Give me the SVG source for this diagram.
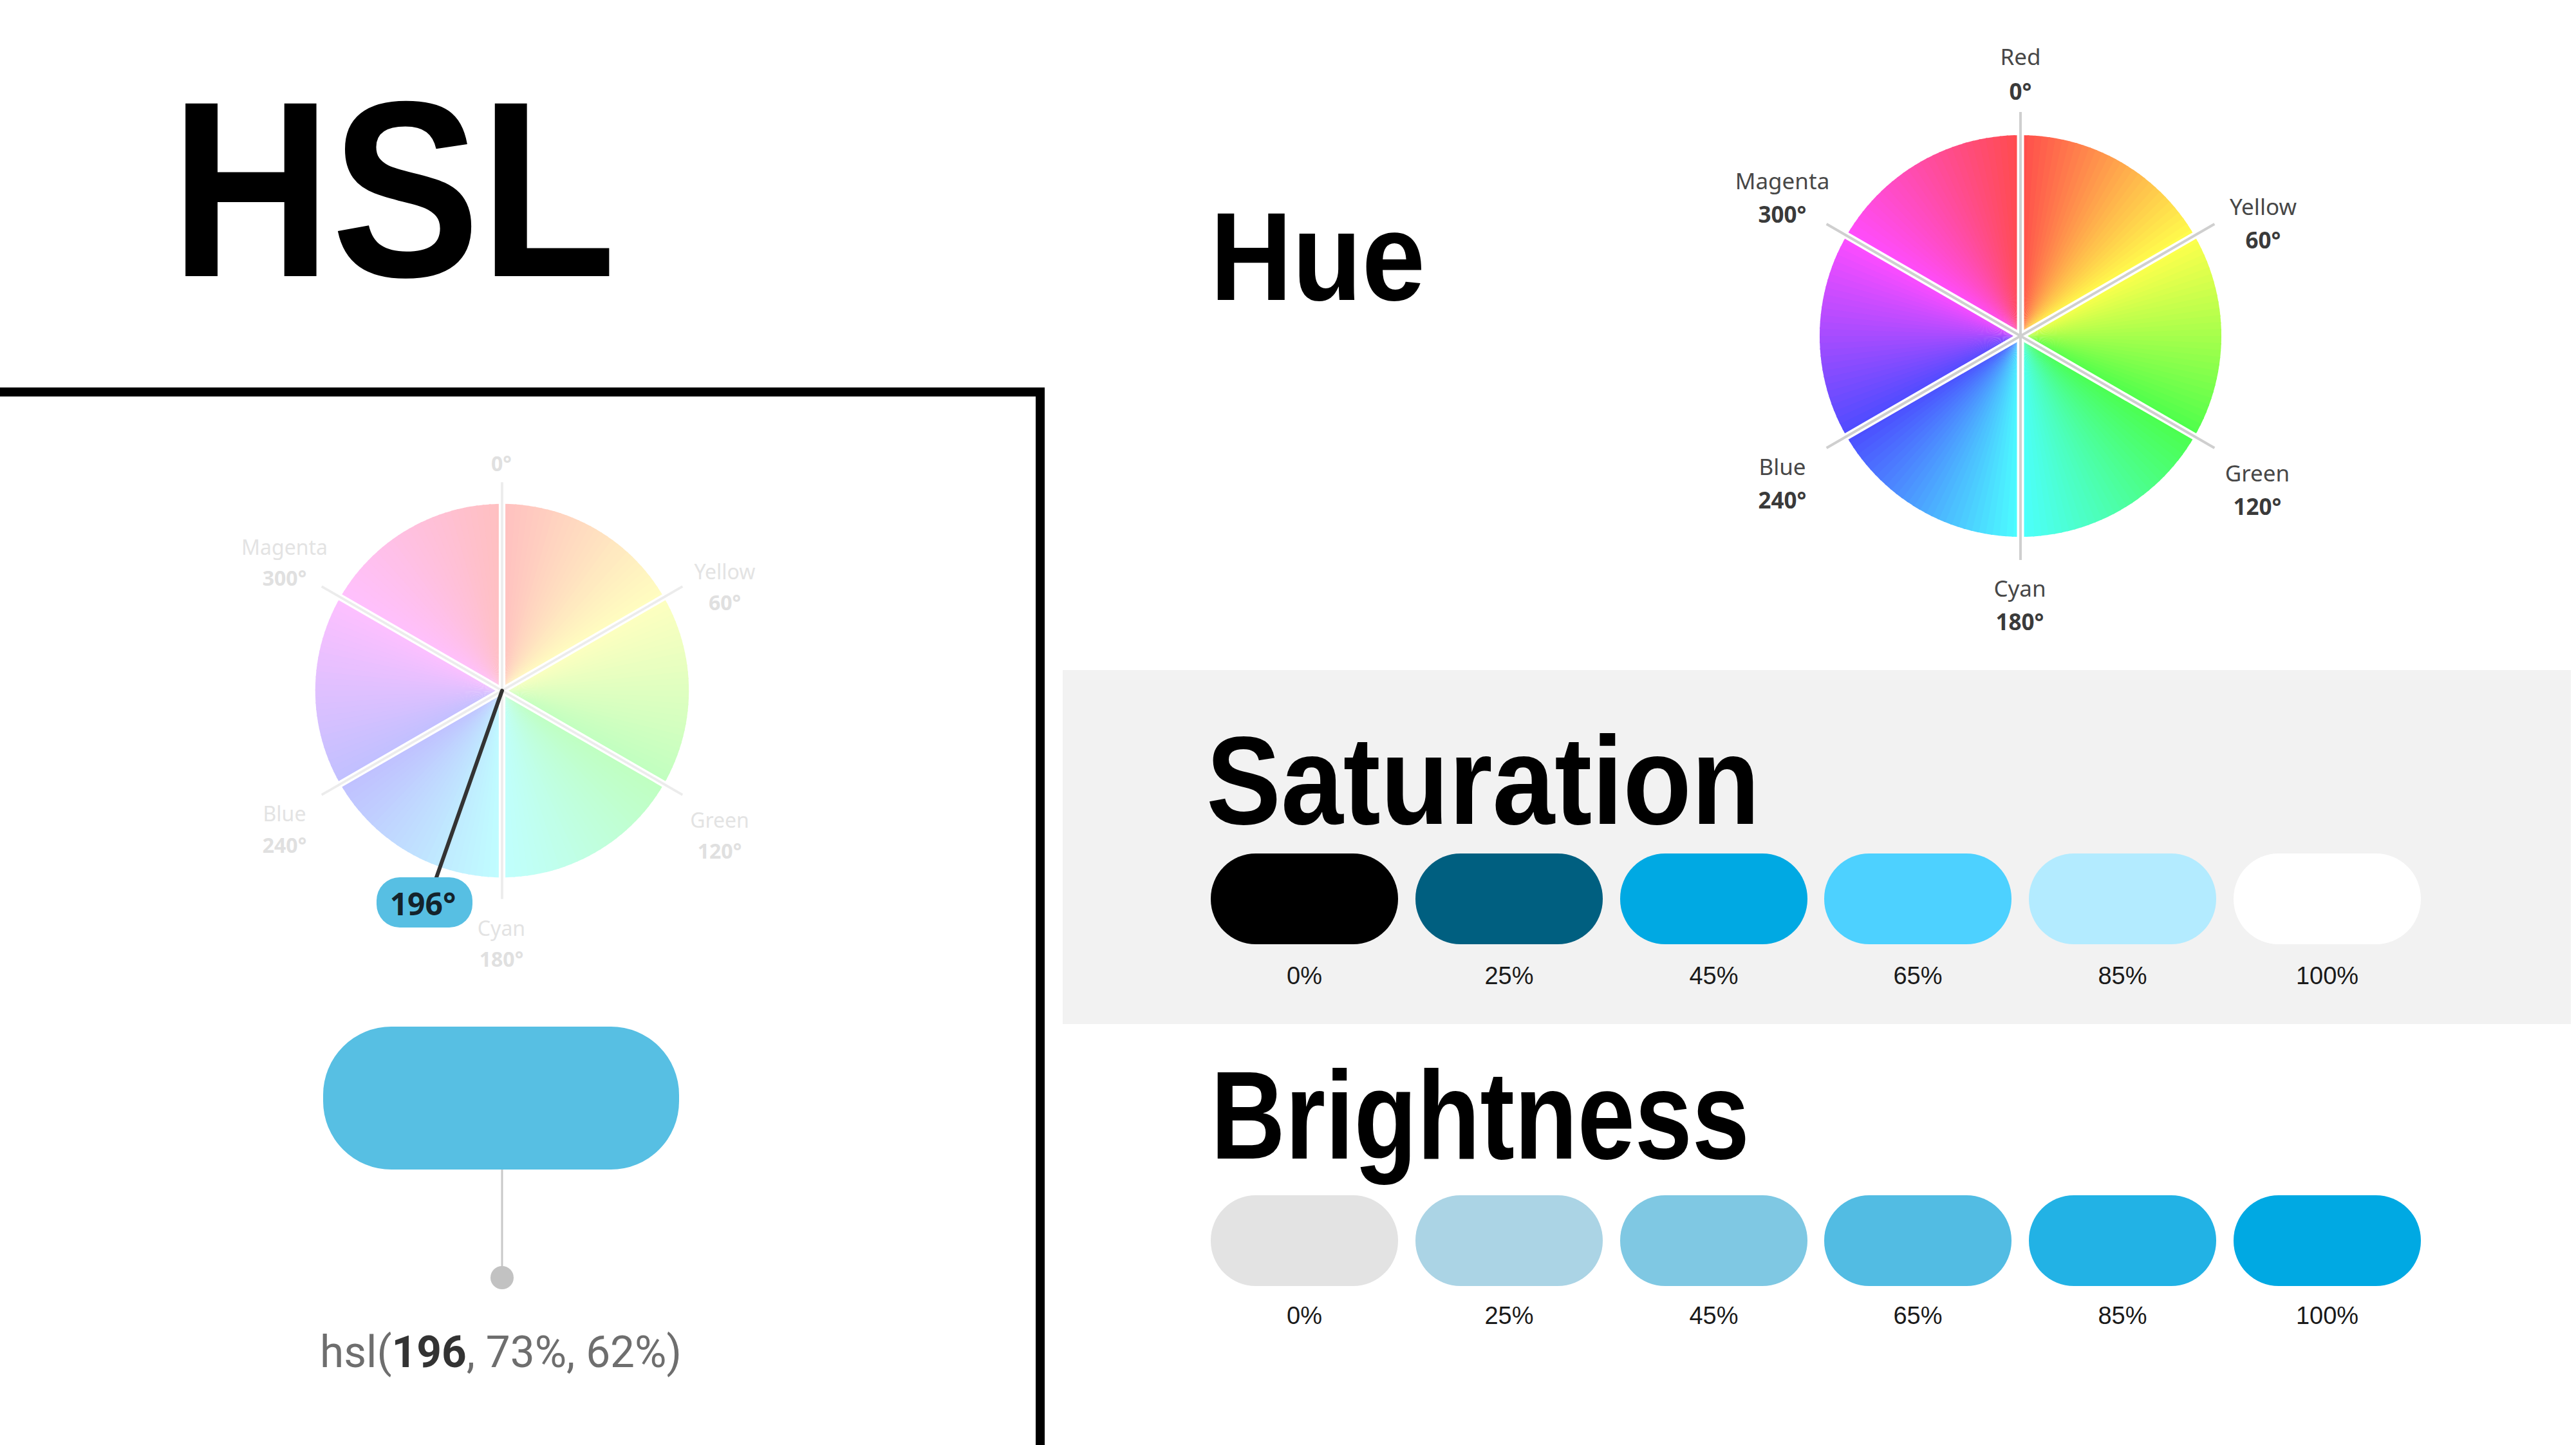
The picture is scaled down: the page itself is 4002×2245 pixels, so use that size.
<svg xmlns="http://www.w3.org/2000/svg" width="4002" height="2245" viewBox="0 0 4002 2245">
<style>
.title{font-family:"Liberation Sans",Arial,sans-serif;font-weight:700;fill:#000}
.wl{font-family:"Noto Sans",Roboto,sans-serif;font-size:35px;fill:#474747;text-anchor:middle}
.wd{font-family:"Noto Sans",Roboto,sans-serif;font-size:35px;font-weight:700;fill:#3a3a3a;text-anchor:middle}
.ll{font-family:"Noto Sans",Roboto,sans-serif;font-size:32px;fill:#e3e3e3;text-anchor:middle}
.ld{font-family:"Noto Sans",Roboto,sans-serif;font-size:32px;font-weight:700;fill:#e0e0e0;text-anchor:middle}
.pl{font-family:"Liberation Sans",Arial,sans-serif;font-size:38px;fill:#1a1a1a;text-anchor:middle}
.gap{stroke:#fff;stroke-width:11}
</style>
<defs>
<path id="w" d="M0 0L0-312A312 312 0 0 1 13.61-311.70Z"/>
<g id="disc">
<use href="#w" transform="rotate(0)" fill="hsl(1,100%,65%)"/>
<use href="#w" transform="rotate(2)" fill="hsl(3,100%,65%)"/>
<use href="#w" transform="rotate(4)" fill="hsl(5,100%,65%)"/>
<use href="#w" transform="rotate(6)" fill="hsl(7,100%,65%)"/>
<use href="#w" transform="rotate(8)" fill="hsl(9,100%,65%)"/>
<use href="#w" transform="rotate(10)" fill="hsl(11,100%,65%)"/>
<use href="#w" transform="rotate(12)" fill="hsl(13,100%,65%)"/>
<use href="#w" transform="rotate(14)" fill="hsl(15,100%,65%)"/>
<use href="#w" transform="rotate(16)" fill="hsl(17,100%,65%)"/>
<use href="#w" transform="rotate(18)" fill="hsl(19,100%,65%)"/>
<use href="#w" transform="rotate(20)" fill="hsl(21,100%,65%)"/>
<use href="#w" transform="rotate(22)" fill="hsl(23,100%,65%)"/>
<use href="#w" transform="rotate(24)" fill="hsl(25,100%,65%)"/>
<use href="#w" transform="rotate(26)" fill="hsl(27,100%,65%)"/>
<use href="#w" transform="rotate(28)" fill="hsl(29,100%,65%)"/>
<use href="#w" transform="rotate(30)" fill="hsl(31,100%,65%)"/>
<use href="#w" transform="rotate(32)" fill="hsl(33,100%,65%)"/>
<use href="#w" transform="rotate(34)" fill="hsl(35,100%,65%)"/>
<use href="#w" transform="rotate(36)" fill="hsl(37,100%,65%)"/>
<use href="#w" transform="rotate(38)" fill="hsl(39,100%,65%)"/>
<use href="#w" transform="rotate(40)" fill="hsl(41,100%,65%)"/>
<use href="#w" transform="rotate(42)" fill="hsl(43,100%,65%)"/>
<use href="#w" transform="rotate(44)" fill="hsl(45,100%,65%)"/>
<use href="#w" transform="rotate(46)" fill="hsl(47,100%,65%)"/>
<use href="#w" transform="rotate(48)" fill="hsl(49,100%,65%)"/>
<use href="#w" transform="rotate(50)" fill="hsl(51,100%,65%)"/>
<use href="#w" transform="rotate(52)" fill="hsl(53,100%,65%)"/>
<use href="#w" transform="rotate(54)" fill="hsl(55,100%,65%)"/>
<use href="#w" transform="rotate(56)" fill="hsl(57,100%,65%)"/>
<use href="#w" transform="rotate(58)" fill="hsl(59,100%,65%)"/>
<use href="#w" transform="rotate(60)" fill="hsl(61,100%,65%)"/>
<use href="#w" transform="rotate(62)" fill="hsl(63,100%,65%)"/>
<use href="#w" transform="rotate(64)" fill="hsl(65,100%,65%)"/>
<use href="#w" transform="rotate(66)" fill="hsl(67,100%,65%)"/>
<use href="#w" transform="rotate(68)" fill="hsl(69,100%,65%)"/>
<use href="#w" transform="rotate(70)" fill="hsl(71,100%,65%)"/>
<use href="#w" transform="rotate(72)" fill="hsl(73,100%,65%)"/>
<use href="#w" transform="rotate(74)" fill="hsl(75,100%,65%)"/>
<use href="#w" transform="rotate(76)" fill="hsl(77,100%,65%)"/>
<use href="#w" transform="rotate(78)" fill="hsl(79,100%,65%)"/>
<use href="#w" transform="rotate(80)" fill="hsl(81,100%,65%)"/>
<use href="#w" transform="rotate(82)" fill="hsl(83,100%,65%)"/>
<use href="#w" transform="rotate(84)" fill="hsl(85,100%,65%)"/>
<use href="#w" transform="rotate(86)" fill="hsl(87,100%,65%)"/>
<use href="#w" transform="rotate(88)" fill="hsl(89,100%,65%)"/>
<use href="#w" transform="rotate(90)" fill="hsl(91,100%,65%)"/>
<use href="#w" transform="rotate(92)" fill="hsl(93,100%,65%)"/>
<use href="#w" transform="rotate(94)" fill="hsl(95,100%,65%)"/>
<use href="#w" transform="rotate(96)" fill="hsl(97,100%,65%)"/>
<use href="#w" transform="rotate(98)" fill="hsl(99,100%,65%)"/>
<use href="#w" transform="rotate(100)" fill="hsl(101,100%,65%)"/>
<use href="#w" transform="rotate(102)" fill="hsl(103,100%,65%)"/>
<use href="#w" transform="rotate(104)" fill="hsl(105,100%,65%)"/>
<use href="#w" transform="rotate(106)" fill="hsl(107,100%,65%)"/>
<use href="#w" transform="rotate(108)" fill="hsl(109,100%,65%)"/>
<use href="#w" transform="rotate(110)" fill="hsl(111,100%,65%)"/>
<use href="#w" transform="rotate(112)" fill="hsl(113,100%,65%)"/>
<use href="#w" transform="rotate(114)" fill="hsl(115,100%,65%)"/>
<use href="#w" transform="rotate(116)" fill="hsl(117,100%,65%)"/>
<use href="#w" transform="rotate(118)" fill="hsl(119,100%,65%)"/>
<use href="#w" transform="rotate(120)" fill="hsl(121,100%,65%)"/>
<use href="#w" transform="rotate(122)" fill="hsl(123,100%,65%)"/>
<use href="#w" transform="rotate(124)" fill="hsl(125,100%,65%)"/>
<use href="#w" transform="rotate(126)" fill="hsl(127,100%,65%)"/>
<use href="#w" transform="rotate(128)" fill="hsl(129,100%,65%)"/>
<use href="#w" transform="rotate(130)" fill="hsl(131,100%,65%)"/>
<use href="#w" transform="rotate(132)" fill="hsl(133,100%,65%)"/>
<use href="#w" transform="rotate(134)" fill="hsl(135,100%,65%)"/>
<use href="#w" transform="rotate(136)" fill="hsl(137,100%,65%)"/>
<use href="#w" transform="rotate(138)" fill="hsl(139,100%,65%)"/>
<use href="#w" transform="rotate(140)" fill="hsl(141,100%,65%)"/>
<use href="#w" transform="rotate(142)" fill="hsl(143,100%,65%)"/>
<use href="#w" transform="rotate(144)" fill="hsl(145,100%,65%)"/>
<use href="#w" transform="rotate(146)" fill="hsl(147,100%,65%)"/>
<use href="#w" transform="rotate(148)" fill="hsl(149,100%,65%)"/>
<use href="#w" transform="rotate(150)" fill="hsl(151,100%,65%)"/>
<use href="#w" transform="rotate(152)" fill="hsl(153,100%,65%)"/>
<use href="#w" transform="rotate(154)" fill="hsl(155,100%,65%)"/>
<use href="#w" transform="rotate(156)" fill="hsl(157,100%,65%)"/>
<use href="#w" transform="rotate(158)" fill="hsl(159,100%,65%)"/>
<use href="#w" transform="rotate(160)" fill="hsl(161,100%,65%)"/>
<use href="#w" transform="rotate(162)" fill="hsl(163,100%,65%)"/>
<use href="#w" transform="rotate(164)" fill="hsl(165,100%,65%)"/>
<use href="#w" transform="rotate(166)" fill="hsl(167,100%,65%)"/>
<use href="#w" transform="rotate(168)" fill="hsl(169,100%,65%)"/>
<use href="#w" transform="rotate(170)" fill="hsl(171,100%,65%)"/>
<use href="#w" transform="rotate(172)" fill="hsl(173,100%,65%)"/>
<use href="#w" transform="rotate(174)" fill="hsl(175,100%,65%)"/>
<use href="#w" transform="rotate(176)" fill="hsl(177,100%,65%)"/>
<use href="#w" transform="rotate(178)" fill="hsl(179,100%,65%)"/>
<use href="#w" transform="rotate(180)" fill="hsl(181,100%,65%)"/>
<use href="#w" transform="rotate(182)" fill="hsl(183,100%,65%)"/>
<use href="#w" transform="rotate(184)" fill="hsl(185,100%,65%)"/>
<use href="#w" transform="rotate(186)" fill="hsl(187,100%,65%)"/>
<use href="#w" transform="rotate(188)" fill="hsl(189,100%,65%)"/>
<use href="#w" transform="rotate(190)" fill="hsl(191,100%,65%)"/>
<use href="#w" transform="rotate(192)" fill="hsl(193,100%,65%)"/>
<use href="#w" transform="rotate(194)" fill="hsl(195,100%,65%)"/>
<use href="#w" transform="rotate(196)" fill="hsl(197,100%,65%)"/>
<use href="#w" transform="rotate(198)" fill="hsl(199,100%,65%)"/>
<use href="#w" transform="rotate(200)" fill="hsl(201,100%,65%)"/>
<use href="#w" transform="rotate(202)" fill="hsl(203,100%,65%)"/>
<use href="#w" transform="rotate(204)" fill="hsl(205,100%,65%)"/>
<use href="#w" transform="rotate(206)" fill="hsl(207,100%,65%)"/>
<use href="#w" transform="rotate(208)" fill="hsl(209,100%,65%)"/>
<use href="#w" transform="rotate(210)" fill="hsl(211,100%,65%)"/>
<use href="#w" transform="rotate(212)" fill="hsl(213,100%,65%)"/>
<use href="#w" transform="rotate(214)" fill="hsl(215,100%,65%)"/>
<use href="#w" transform="rotate(216)" fill="hsl(217,100%,65%)"/>
<use href="#w" transform="rotate(218)" fill="hsl(219,100%,65%)"/>
<use href="#w" transform="rotate(220)" fill="hsl(221,100%,65%)"/>
<use href="#w" transform="rotate(222)" fill="hsl(223,100%,65%)"/>
<use href="#w" transform="rotate(224)" fill="hsl(225,100%,65%)"/>
<use href="#w" transform="rotate(226)" fill="hsl(227,100%,65%)"/>
<use href="#w" transform="rotate(228)" fill="hsl(229,100%,65%)"/>
<use href="#w" transform="rotate(230)" fill="hsl(231,100%,65%)"/>
<use href="#w" transform="rotate(232)" fill="hsl(233,100%,65%)"/>
<use href="#w" transform="rotate(234)" fill="hsl(235,100%,65%)"/>
<use href="#w" transform="rotate(236)" fill="hsl(237,100%,65%)"/>
<use href="#w" transform="rotate(238)" fill="hsl(239,100%,65%)"/>
<use href="#w" transform="rotate(240)" fill="hsl(241,100%,65%)"/>
<use href="#w" transform="rotate(242)" fill="hsl(243,100%,65%)"/>
<use href="#w" transform="rotate(244)" fill="hsl(245,100%,65%)"/>
<use href="#w" transform="rotate(246)" fill="hsl(247,100%,65%)"/>
<use href="#w" transform="rotate(248)" fill="hsl(249,100%,65%)"/>
<use href="#w" transform="rotate(250)" fill="hsl(251,100%,65%)"/>
<use href="#w" transform="rotate(252)" fill="hsl(253,100%,65%)"/>
<use href="#w" transform="rotate(254)" fill="hsl(255,100%,65%)"/>
<use href="#w" transform="rotate(256)" fill="hsl(257,100%,65%)"/>
<use href="#w" transform="rotate(258)" fill="hsl(259,100%,65%)"/>
<use href="#w" transform="rotate(260)" fill="hsl(261,100%,65%)"/>
<use href="#w" transform="rotate(262)" fill="hsl(263,100%,65%)"/>
<use href="#w" transform="rotate(264)" fill="hsl(265,100%,65%)"/>
<use href="#w" transform="rotate(266)" fill="hsl(267,100%,65%)"/>
<use href="#w" transform="rotate(268)" fill="hsl(269,100%,65%)"/>
<use href="#w" transform="rotate(270)" fill="hsl(271,100%,65%)"/>
<use href="#w" transform="rotate(272)" fill="hsl(273,100%,65%)"/>
<use href="#w" transform="rotate(274)" fill="hsl(275,100%,65%)"/>
<use href="#w" transform="rotate(276)" fill="hsl(277,100%,65%)"/>
<use href="#w" transform="rotate(278)" fill="hsl(279,100%,65%)"/>
<use href="#w" transform="rotate(280)" fill="hsl(281,100%,65%)"/>
<use href="#w" transform="rotate(282)" fill="hsl(283,100%,65%)"/>
<use href="#w" transform="rotate(284)" fill="hsl(285,100%,65%)"/>
<use href="#w" transform="rotate(286)" fill="hsl(287,100%,65%)"/>
<use href="#w" transform="rotate(288)" fill="hsl(289,100%,65%)"/>
<use href="#w" transform="rotate(290)" fill="hsl(291,100%,65%)"/>
<use href="#w" transform="rotate(292)" fill="hsl(293,100%,65%)"/>
<use href="#w" transform="rotate(294)" fill="hsl(295,100%,65%)"/>
<use href="#w" transform="rotate(296)" fill="hsl(297,100%,65%)"/>
<use href="#w" transform="rotate(298)" fill="hsl(299,100%,65%)"/>
<use href="#w" transform="rotate(300)" fill="hsl(301,100%,65%)"/>
<use href="#w" transform="rotate(302)" fill="hsl(303,100%,65%)"/>
<use href="#w" transform="rotate(304)" fill="hsl(305,100%,65%)"/>
<use href="#w" transform="rotate(306)" fill="hsl(307,100%,65%)"/>
<use href="#w" transform="rotate(308)" fill="hsl(309,100%,65%)"/>
<use href="#w" transform="rotate(310)" fill="hsl(311,100%,65%)"/>
<use href="#w" transform="rotate(312)" fill="hsl(313,100%,65%)"/>
<use href="#w" transform="rotate(314)" fill="hsl(315,100%,65%)"/>
<use href="#w" transform="rotate(316)" fill="hsl(317,100%,65%)"/>
<use href="#w" transform="rotate(318)" fill="hsl(319,100%,65%)"/>
<use href="#w" transform="rotate(320)" fill="hsl(321,100%,65%)"/>
<use href="#w" transform="rotate(322)" fill="hsl(323,100%,65%)"/>
<use href="#w" transform="rotate(324)" fill="hsl(325,100%,65%)"/>
<use href="#w" transform="rotate(326)" fill="hsl(327,100%,65%)"/>
<use href="#w" transform="rotate(328)" fill="hsl(329,100%,65%)"/>
<use href="#w" transform="rotate(330)" fill="hsl(331,100%,65%)"/>
<use href="#w" transform="rotate(332)" fill="hsl(333,100%,65%)"/>
<use href="#w" transform="rotate(334)" fill="hsl(335,100%,65%)"/>
<use href="#w" transform="rotate(336)" fill="hsl(337,100%,65%)"/>
<use href="#w" transform="rotate(338)" fill="hsl(339,100%,65%)"/>
<use href="#w" transform="rotate(340)" fill="hsl(341,100%,65%)"/>
<use href="#w" transform="rotate(342)" fill="hsl(343,100%,65%)"/>
<use href="#w" transform="rotate(344)" fill="hsl(345,100%,65%)"/>
<use href="#w" transform="rotate(346)" fill="hsl(347,100%,65%)"/>
<use href="#w" transform="rotate(348)" fill="hsl(349,100%,65%)"/>
<use href="#w" transform="rotate(350)" fill="hsl(351,100%,65%)"/>
<use href="#w" transform="rotate(352)" fill="hsl(353,100%,65%)"/>
<use href="#w" transform="rotate(354)" fill="hsl(355,100%,65%)"/>
<use href="#w" transform="rotate(356)" fill="hsl(357,100%,65%)"/>
<use href="#w" transform="rotate(358)" fill="hsl(359,100%,65%)"/>
</g>
</defs>
<rect width="4002" height="2245" fill="#fff"/>

<g id="title-hsl"><text class="title" x="265" y="429" font-size="390" textLength="692" lengthAdjust="spacingAndGlyphs">HSL</text></g>

<g id="frame"><polyline points="0,609 1616,609 1616,2245" fill="none" stroke="#000" stroke-width="14"/></g>

<g id="pastel-wheel" transform="translate(780,1073) scale(0.93)">
<use href="#disc" opacity="0.35"/>
<g class="gap"><line x1="0" y1="-314" x2="0" y2="314"/><line x1="271.9" y1="-157" x2="-271.9" y2="157"/><line x1="271.9" y1="157" x2="-271.9" y2="-157"/></g>
<g stroke="#ececec" stroke-width="4"><line x1="0" y1="-348" x2="0" y2="348"/><line x1="301.4" y1="-174" x2="-301.4" y2="174"/><line x1="301.4" y1="174" x2="-301.4" y2="-174"/></g>
</g>
<g id="pastel-labels">
<text class="ld" x="779" y="732">0°</text>
<text class="ll" x="442" y="862">Magenta</text><text class="ld" x="442" y="910">300°</text>
<text class="ll" x="1126" y="900">Yellow</text><text class="ld" x="1126" y="948">60°</text>
<text class="ll" x="442" y="1276">Blue</text><text class="ld" x="442" y="1325">240°</text>
<text class="ll" x="1118" y="1286">Green</text><text class="ld" x="1118" y="1334">120°</text>
<text class="ll" x="779" y="1454">Cyan</text><text class="ld" x="779" y="1502">180°</text>
</g>

<g id="connectors">
<line x1="780" y1="1073" x2="677" y2="1366" stroke="#333" stroke-width="6" stroke-linecap="round"/>
<line x1="780" y1="1817" x2="780" y2="1985" stroke="#c8c8c8" stroke-width="3"/>
</g>

<g id="badge-196">
<rect x="585" y="1363" width="149" height="78" rx="36" fill="#57bfe3"/>
<text x="657" y="1422" font-family="Noto Sans, Roboto, sans-serif" font-size="48" font-weight="700" fill="#14232b" text-anchor="middle">196°</text>
</g>

<g id="color-pill"><rect x="502" y="1595" width="553" height="222" rx="106" fill="#57bfe3"/></g>
<g id="dot"><circle cx="780" cy="1985" r="18" fill="#c2c2c2"/></g>
<g id="hsl-value"><text x="778" y="2124" font-family="Roboto, 'Noto Sans', sans-serif" font-size="68" fill="#6e6e6e" text-anchor="middle" textLength="562" lengthAdjust="spacingAndGlyphs">hsl(<tspan font-weight="700" fill="#333">196</tspan>, 73%, 62%)</text></g>

<g id="title-hue"><text class="title" x="1880" y="466" font-size="194" textLength="334" lengthAdjust="spacingAndGlyphs">Hue</text></g>

<g id="hue-wheel" transform="translate(3139,522)">
<use href="#disc"/>
<g class="gap"><line x1="0" y1="-314" x2="0" y2="314"/><line x1="271.9" y1="-157" x2="-271.9" y2="157"/><line x1="271.9" y1="157" x2="-271.9" y2="-157"/></g>
<g stroke="#cfcfcf" stroke-width="4"><line x1="0" y1="-348" x2="0" y2="348"/><line x1="301.4" y1="-174" x2="-301.4" y2="174"/><line x1="301.4" y1="174" x2="-301.4" y2="-174"/></g>
</g>
<g id="hue-labels">
<text class="wl" x="3139" y="101">Red</text><text class="wd" x="3139" y="155">0°</text>
<text class="wl" x="2769" y="294">Magenta</text><text class="wd" x="2769" y="346">300°</text>
<text class="wl" x="3516" y="334">Yellow</text><text class="wd" x="3516" y="386">60°</text>
<text class="wl" x="2769" y="738">Blue</text><text class="wd" x="2769" y="790">240°</text>
<text class="wl" x="3507" y="748">Green</text><text class="wd" x="3507" y="800">120°</text>
<text class="wl" x="3138" y="927">Cyan</text><text class="wd" x="3138" y="979">180°</text>
</g>

<g id="saturation-band"><rect x="1651" y="1041" width="2343" height="550" fill="#f2f2f2"/></g>
<g id="title-saturation"><text class="title" x="1874" y="1280" font-size="194" textLength="860" lengthAdjust="spacingAndGlyphs">Saturation</text></g>
<g id="saturation-swatches">
<rect x="1881" y="1326" width="291" height="141" rx="70" fill="#000"/>
<rect x="2199" y="1326" width="291" height="141" rx="70" fill="#005f80"/>
<rect x="2517" y="1326" width="291" height="141" rx="70" fill="#00a9e3"/>
<rect x="2834" y="1326" width="291" height="141" rx="70" fill="#4dd1ff"/>
<rect x="3152" y="1326" width="291" height="141" rx="70" fill="#b3ebff"/>
<rect x="3470" y="1326" width="291" height="141" rx="70" fill="#fff"/>
<text class="pl" x="2026.5" y="1529">0%</text>
<text class="pl" x="2344.5" y="1529">25%</text>
<text class="pl" x="2662.5" y="1529">45%</text>
<text class="pl" x="2979.5" y="1529">65%</text>
<text class="pl" x="3297.5" y="1529">85%</text>
<text class="pl" x="3615.5" y="1529">100%</text>
</g>

<g id="title-brightness"><text class="title" x="1881" y="1800" font-size="194" textLength="837" lengthAdjust="spacingAndGlyphs">Brightness</text></g>
<g id="brightness-swatches">
<rect x="1881" y="1857" width="291" height="141" rx="70" fill="#e3e3e3"/>
<rect x="2199" y="1857" width="291" height="141" rx="70" fill="#abd4e5"/>
<rect x="2517" y="1857" width="291" height="141" rx="70" fill="#7fc8e3"/>
<rect x="2834" y="1857" width="291" height="141" rx="70" fill="#52bce3"/>
<rect x="3152" y="1857" width="291" height="141" rx="70" fill="#22b2e5"/>
<rect x="3470" y="1857" width="291" height="141" rx="70" fill="#00a9e3"/>
<text class="pl" x="2026.5" y="2057">0%</text>
<text class="pl" x="2344.5" y="2057">25%</text>
<text class="pl" x="2662.5" y="2057">45%</text>
<text class="pl" x="2979.5" y="2057">65%</text>
<text class="pl" x="3297.5" y="2057">85%</text>
<text class="pl" x="3615.5" y="2057">100%</text>
</g>
</svg>
